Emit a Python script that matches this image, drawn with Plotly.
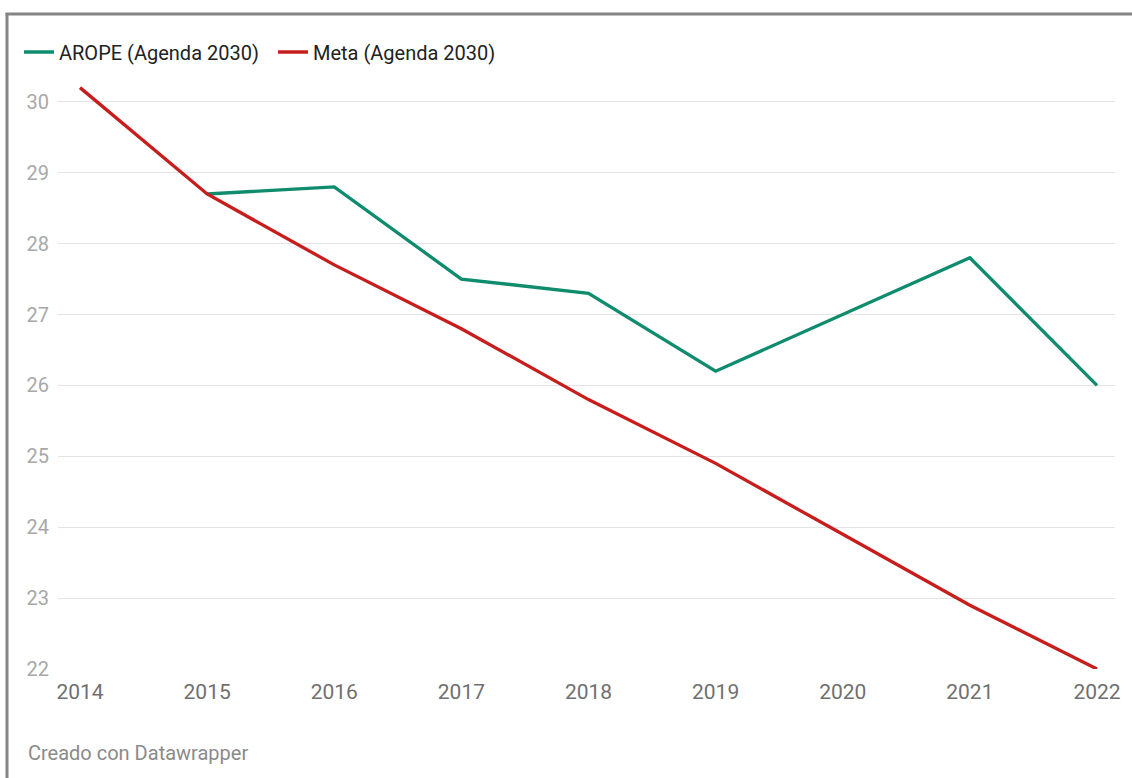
import plotly.graph_objects as go

years = [2014, 2015, 2016, 2017, 2018, 2019, 2020, 2021, 2022]
arope_years = [2015, 2016, 2017, 2018, 2019, 2020, 2021, 2022]
arope = [28.7, 28.8, 27.5, 27.3, 26.2, 27.0, 27.8, 26.0]
meta = [30.2, 28.7, 27.7, 26.8, 25.8, 24.9, 23.9, 22.9, 22.0]
y_ticks = [22, 23, 24, 25, 26, 27, 28, 29, 30]

W, H = 1132, 778
ml, mr, mt, mb = 58, 17, 77, 109
pw, ph = W - ml - mr, H - mt - mb

def px_x(p):
    return (p - ml) / pw

def px_y(p):
    return (H - mb - p) / ph

fig = go.Figure()
fig.add_trace(go.Scatter(x=arope_years, y=arope, mode="lines", name="AROPE (Agenda 2030)",
                         line=dict(color="#0f8b6d", width=3.3)))
fig.add_trace(go.Scatter(x=years, y=meta, mode="lines", name="Meta (Agenda 2030)",
                         line=dict(color="#c71e1d", width=3.3)))

fig.update_layout(
    width=W, height=H,
    margin=dict(l=ml, r=mr, t=mt, b=mb),
    plot_bgcolor="white", paper_bgcolor="white",
    font=dict(family="Roboto", size=20, color="#333333"),
    showlegend=True,
    legend=dict(orientation="h", x=px_x(19), y=px_y(52), xanchor="left", yanchor="middle",
                font=dict(size=20, color="#222222"), itemwidth=30, traceorder="normal",
                entrywidth=209, entrywidthmode="pixels",
                bgcolor="rgba(0,0,0,0)"),
    xaxis=dict(range=[2014 - 22 / 127.1, 2022 + 18 / 127.1], tickvals=years,
               ticktext=[str(y) for y in years], showgrid=False, zeroline=False,
               showline=False, ticks="", tickfont=dict(size=21, color="#707070"),
               ticklabelstandoff=8, fixedrange=True),
    yaxis=dict(range=[22, 30.35], tickvals=y_ticks, showgrid=True, gridcolor="#e3e3e3",
               gridwidth=1, zeroline=False, showline=False, ticks="",
               tickfont=dict(size=20, color="#a8a8a8"), ticklabelstandoff=8, fixedrange=True),
    annotations=[dict(text="Creado con Datawrapper", xref="paper", yref="paper",
                      x=px_x(26), y=px_y(753), xanchor="left", yanchor="middle",
                      showarrow=False, font=dict(size=20, color="#8a8a8a"))],
    shapes=[
        dict(type="line", xref="paper", yref="paper", x0=px_x(7), x1=px_x(7),
             y0=px_y(13), y1=px_y(H + 5), line=dict(color="#858585", width=3)),
        dict(type="line", xref="paper", yref="paper", x0=px_x(5.5), x1=px_x(W + 5),
             y0=px_y(14), y1=px_y(14), line=dict(color="#858585", width=3)),
    ],
)

fig.write_html("out.html", config={"displayModeBar": False},
               post_script="document.body.style.margin='0';")
